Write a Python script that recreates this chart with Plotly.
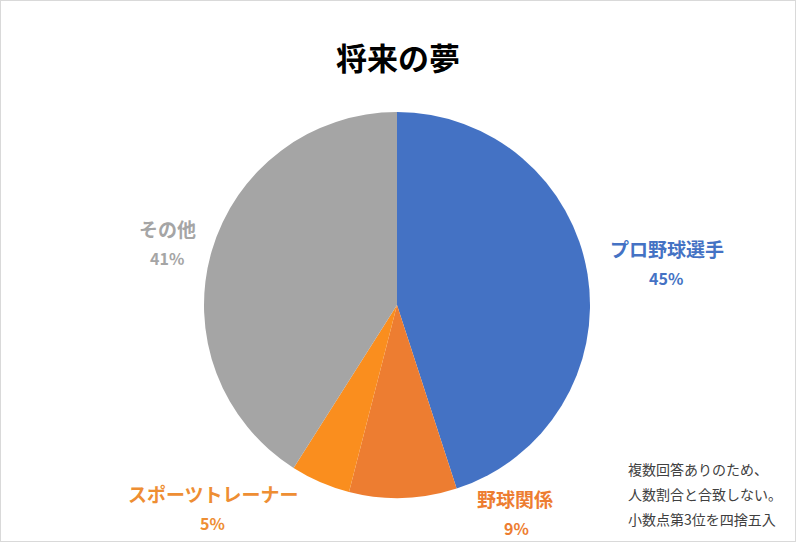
import plotly.graph_objects as go

W, H = 796, 542

categories = ["プロ野球選手", "野球関係", "スポーツトレーナー", "その他"]
values = [45, 9, 5, 41]
slice_colors = ["#4472C4", "#ED7D31", "#FA8E1E", "#A5A5A5"]
label_colors = ["#4472C4", "#ED7D31", "#EE8E33", "#A5A5A5"]
title_text = "将来の夢"
note_lines = ["複数回答ありのため、", "人数割合と合致しない。", "小数点第3位を四捨五入"]

# label pixel centres (layout)
label_pos = [(667, 248), (515, 498), (213, 493), (167, 228)]

FONT = "Noto Sans CJK JP"

cx, cy, r = 397, 305, 193

fig = go.Figure(go.Pie(
    labels=categories,
    values=values,
    sort=False,
    direction="clockwise",
    rotation=0,
    marker=dict(colors=slice_colors, line=dict(width=0)),
    textinfo="none",
    hoverinfo="label+percent",
    showlegend=False,
    domain=dict(x=[(cx - r) / W, (cx + r) / W], y=[1 - (cy + r) / H, 1 - (cy - r) / H]),
))

annotations = [dict(
    text="<b>" + title_text + "</b>", x=398 / W, y=1 - 56 / H, xref="paper", yref="paper",
    showarrow=False, xanchor="center", yanchor="middle",
    font=dict(family=FONT, size=31, color="#000000"),
)]

pct_x = [666, 516, 212, 167]
for cat, val, col, (px, py), qx in zip(categories, values, label_colors, label_pos, pct_x):
    annotations.append(dict(
        text="<b>" + cat + "</b>", x=px / W, y=1 - py / H, xref="paper", yref="paper",
        showarrow=False, xanchor="center", yanchor="middle",
        font=dict(family=FONT, size=19, color=col),
    ))
    annotations.append(dict(
        text="<b>" + f"{val}%" + "</b>", x=qx / W, y=1 - (py + 30) / H, xref="paper", yref="paper",
        showarrow=False, xanchor="center", yanchor="middle",
        font=dict(family=FONT, size=16, color=col),
    ))

for i, line in enumerate(note_lines):
    annotations.append(dict(
        text=line, x=626 / W, y=1 - (469 + 25 * i) / H, xref="paper", yref="paper",
        showarrow=False, xanchor="left", yanchor="middle",
        font=dict(family=FONT, size=14, color="#404040"),
    ))

fig.update_layout(
    width=W, height=H,
    margin=dict(l=0, r=0, t=0, b=0),
    paper_bgcolor="#FFFFFF",
    plot_bgcolor="#FFFFFF",
    annotations=annotations,
    shapes=[dict(type="rect", xref="paper", yref="paper", x0=0, y0=0, x1=1, y1=1,
                 line=dict(color="#D9D9D9", width=2))],
)

fig.write_html("out.html", config={"displayModeBar": False},
               post_script="document.body.style.margin='0';")
